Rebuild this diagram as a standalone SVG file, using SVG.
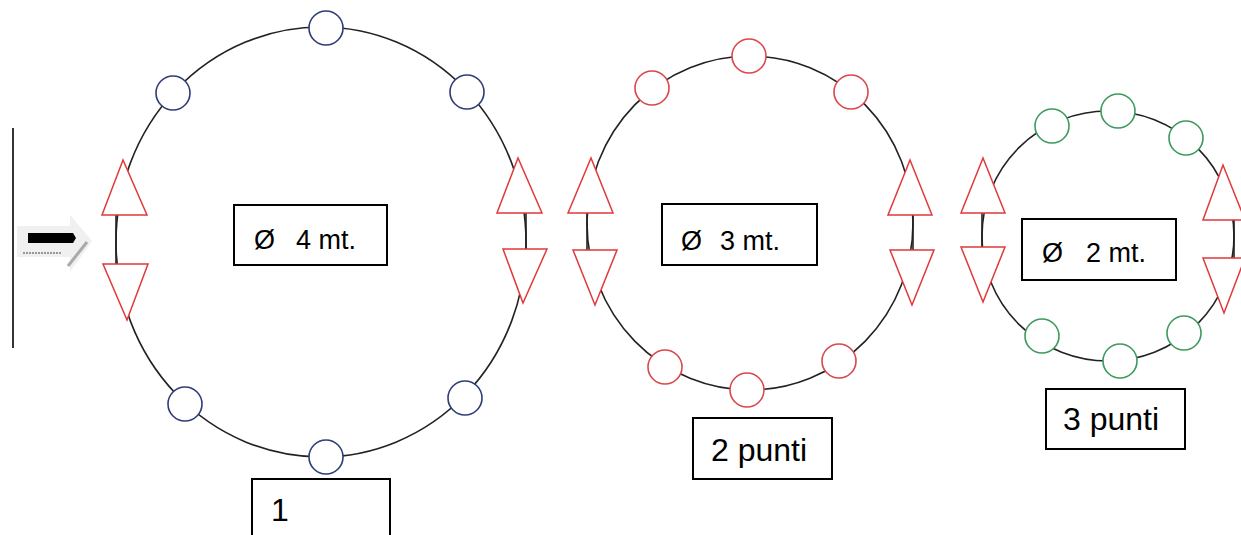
<svg xmlns="http://www.w3.org/2000/svg" width="1241" height="535" viewBox="0 0 1241 535">
<style>
.ring{fill:none;stroke:#222;stroke-width:1.6}
.tri{fill:#fff;stroke:#e0393b;stroke-width:1.5;stroke-linejoin:miter}
.stem{stroke:#222;stroke-width:1.6}
.blue{fill:#fff;stroke:#2e3d78;stroke-width:1.6}
.red{fill:#fff;stroke:#d9484b;stroke-width:1.6}
.green{fill:#fff;stroke:#3d9a5e;stroke-width:1.6}
.box{fill:#fff;stroke:#000;stroke-width:2}
.t{font-family:"Liberation Sans",Arial,sans-serif;fill:#000}
.d{font-size:27px}
.p{font-size:32px}
</style>
<rect width="1241" height="535" fill="#fff"/>

<g id="entrance">
  <line x1="13" y1="128" x2="13" y2="348" stroke="#000" stroke-width="1.6"/>
  <polygon points="17,226 70,226 70,215 92,241 70,272 70,257 17,257" fill="#f0f0f0"/>
  <polygon points="28,233 73,233 76,238 73,243 28,243" fill="#000"/>
  <line x1="23" y1="253" x2="62" y2="253" stroke="#999" stroke-width="2" stroke-dasharray="2,1"/>
  <line x1="68" y1="266" x2="87" y2="242" stroke="#aaa" stroke-width="3"/>
</g>

<g id="connectors">
  <ellipse class="ring" cx="321" cy="242" rx="205" ry="215"/>
  <ellipse class="ring" cx="750" cy="223" rx="163" ry="167"/>
  <ellipse class="ring" cx="1108" cy="236" rx="126" ry="125"/>
  <line class="stem" x1="116" y1="215" x2="116" y2="264"/>
  <line class="stem" x1="526" y1="213" x2="526" y2="249"/>
  <line class="stem" x1="587" y1="213" x2="587" y2="250"/>
  <line class="stem" x1="913" y1="215" x2="913" y2="250"/>
  <line class="stem" x1="982" y1="213" x2="982" y2="247"/>
  <line class="stem" x1="1234" y1="220" x2="1234" y2="258"/>
</g>

<g id="ring1">
  <polygon class="tri" points="123,160 102,215 147,215"/>
  <polygon class="tri" points="103,264 148,264 127,320"/>
  <polygon class="tri" points="518,158 497,213 542,213"/>
  <polygon class="tri" points="503,249 547,249 523,303"/>
  <circle class="blue" cx="326" cy="28" r="17"/>
  <circle class="blue" cx="173" cy="93" r="17"/>
  <circle class="blue" cx="467" cy="92" r="17"/>
  <circle class="blue" cx="185" cy="404" r="17"/>
  <circle class="blue" cx="465" cy="398" r="17"/>
  <circle class="blue" cx="326" cy="457" r="17"/>
</g>

<g id="ring2">
  <polygon class="tri" points="591,158 568,213 613,213"/>
  <polygon class="tri" points="573,250 617,250 595,305"/>
  <polygon class="tri" points="910,160 888,215 932,215"/>
  <polygon class="tri" points="890,250 934,250 912,305"/>
  <circle class="red" cx="749" cy="56" r="17"/>
  <circle class="red" cx="652" cy="88" r="17"/>
  <circle class="red" cx="851" cy="92" r="17"/>
  <circle class="red" cx="665" cy="367" r="17"/>
  <circle class="red" cx="839" cy="361" r="17"/>
  <circle class="red" cx="747" cy="390" r="17"/>
</g>

<g id="ring3">
  <polygon class="tri" points="983,158 961,213 1005,213"/>
  <polygon class="tri" points="961,247 1005,247 983,302"/>
  <polygon class="tri" points="1223,165 1203,220 1245,220"/>
  <polygon class="tri" points="1203,258 1245,258 1224,313"/>
  <circle class="green" cx="1118" cy="111" r="17"/>
  <circle class="green" cx="1052" cy="126" r="17"/>
  <circle class="green" cx="1186" cy="138" r="17"/>
  <circle class="green" cx="1042" cy="336" r="17"/>
  <circle class="green" cx="1184" cy="333" r="17"/>
  <circle class="green" cx="1120" cy="361" r="17"/>
</g>

<g id="label-d4">
  <rect class="box" x="234" y="205" width="153" height="60"/>
  <text class="t d" y="249"><tspan x="254">Ø</tspan><tspan x="296">4 mt.</tspan></text>
</g>
<g id="label-d3">
  <rect class="box" x="662" y="204" width="155" height="61"/>
  <text class="t d" y="250"><tspan x="681">Ø</tspan><tspan x="720">3 mt.</tspan></text>
</g>
<g id="label-d2">
  <rect class="box" x="1022" y="219" width="154" height="61"/>
  <text class="t d" y="262"><tspan x="1042">Ø</tspan><tspan x="1086">2 mt.</tspan></text>
</g>
<g id="label-1">
  <rect class="box" x="252" y="479" width="138" height="70"/>
  <text class="t p" x="271" y="521">1</text>
</g>
<g id="label-2punti">
  <rect class="box" x="693" y="418" width="139" height="61"/>
  <text class="t p" x="711" y="461">2 punti</text>
</g>
<g id="label-3punti">
  <rect class="box" x="1046" y="389" width="139" height="60"/>
  <text class="t p" x="1063" y="430">3 punti</text>
</g>
</svg>
